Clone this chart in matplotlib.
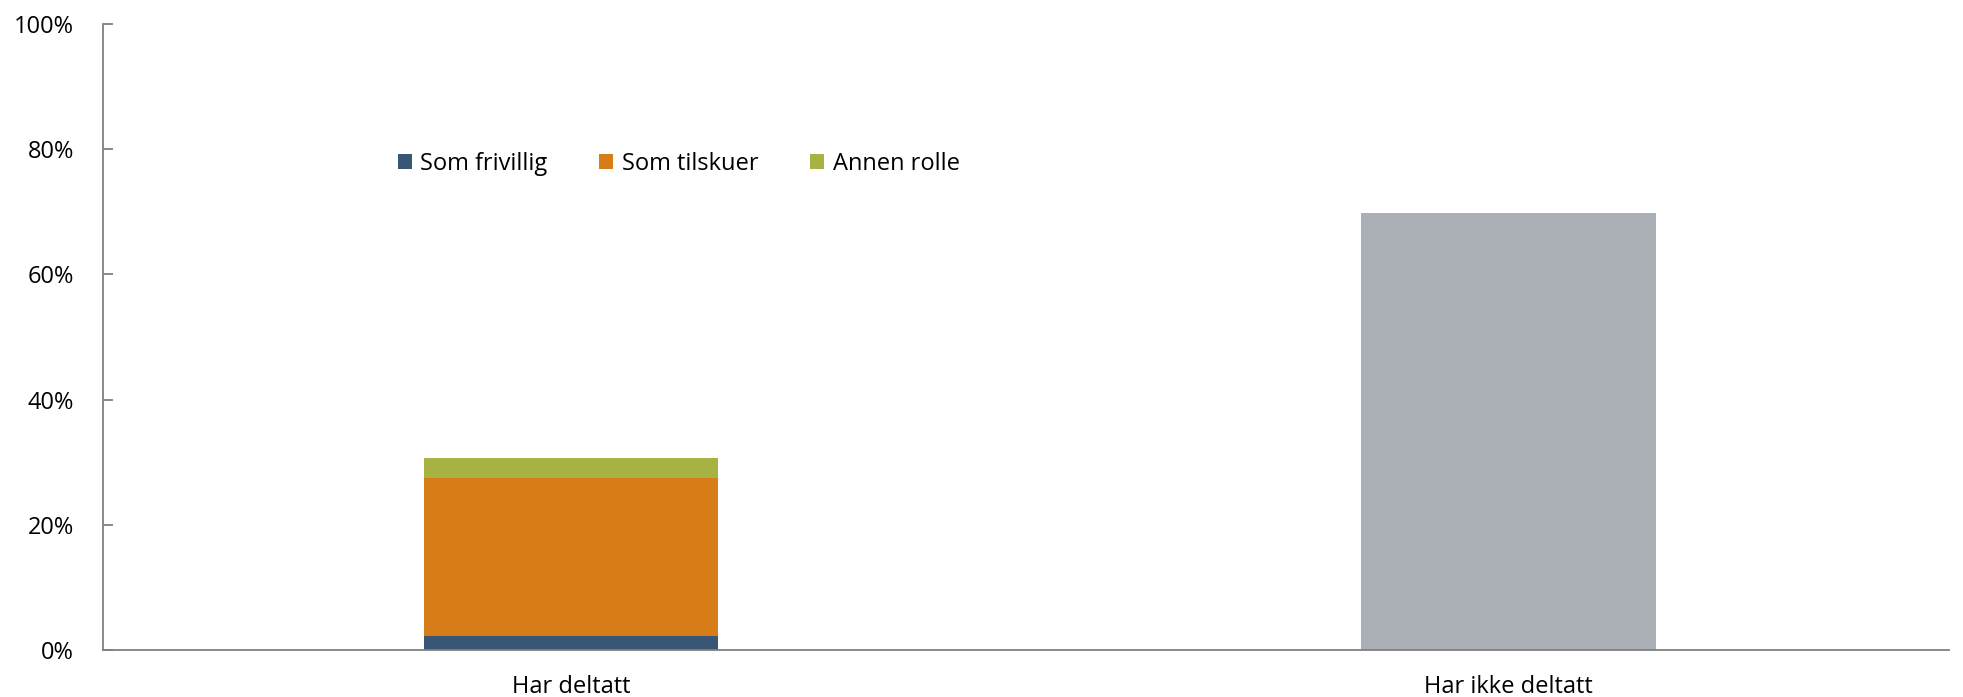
import numpy as np
import matplotlib.pyplot as plt
from matplotlib.ticker import PercentFormatter

plt.rcParams['font.family'] = ['Open Sans', 'DejaVu Sans']

categories = ["Har deltatt", "Har ikke deltatt"]
frivillig = [2.2, 0]
tilskuer = [25.2, 0]
annen = [3.3, 0]
ikke_deltatt = [0, 69.8]

fig = plt.figure(figsize=(19.63, 6.97), dpi=100)
ax = fig.add_axes([0.0525, 0.0674, 0.9405, 0.8982])

x = np.arange(len(categories))
w = 0.314
frivillig = np.array(frivillig)
tilskuer = np.array(tilskuer)
annen = np.array(annen)

ax.bar(x, frivillig, w, color="#3A5675", label="Som frivillig")
ax.bar(x, tilskuer, w, bottom=frivillig, color="#D67D17", label="Som tilskuer")
ax.bar(x, annen, w, bottom=frivillig + tilskuer, color="#A7B243", label="Annen rolle")
ax.bar(x, ikke_deltatt, w, color="#AAB0B6")

ax.set_xlim(-0.499, 1.47)
ax.set_ylim(0, 100)
ax.set_yticks(np.arange(0, 101, 20))
ax.yaxis.set_major_formatter(PercentFormatter(decimals=0))
ax.set_xticks(x)
ax.set_xticklabels(categories)

for s in ["top", "right"]:
    ax.spines[s].set_visible(False)
for s in ["left", "bottom"]:
    ax.spines[s].set_color("#808080")
    ax.spines[s].set_linewidth(1.3)
ax.tick_params(axis="y", direction="in", length=7, color="#808080", width=1.3,
               labelsize=17, pad=21)
ax.tick_params(axis="x", length=0, labelsize=17, pad=18)

ax.legend(loc="center left", bbox_to_anchor=(0.148, 0.777), ncol=3, frameon=False,
          fontsize=17, handlelength=0.6, handleheight=0.6, handletextpad=0.35,
          columnspacing=2.2)

fig.savefig("out.png")
